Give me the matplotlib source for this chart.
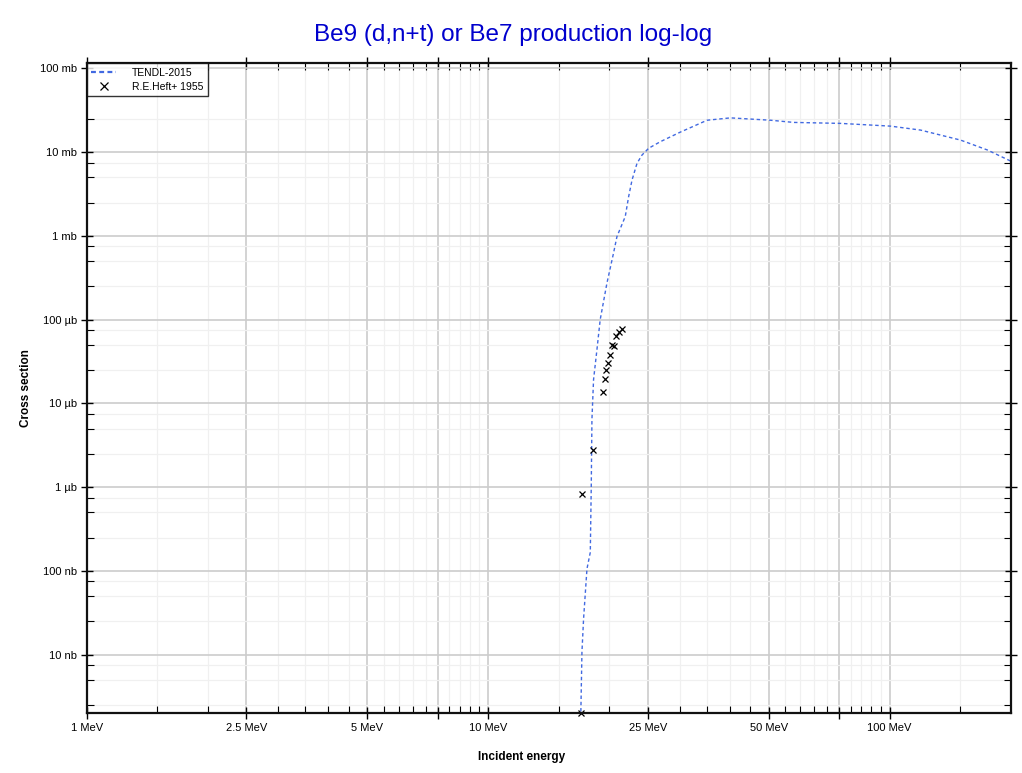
import numpy as np
import matplotlib.pyplot as plt
from matplotlib.ticker import FixedLocator, FuncFormatter, NullFormatter

plt.rcParams['font.family'] = ['Liberation Sans', 'DejaVu Sans']

# TENDL-2015 evaluation (MeV, barn)
tendl_e = [17.0, 17.02, 17.13, 17.29, 17.63, 17.97, 18.07, 18.14, 18.31, 18.67, 19.02,
           19.77, 20.53, 20.94, 21.96, 22.39, 22.83, 23.49, 24.17, 25.11, 26.85,
           30.11, 35.12, 40.14, 50.5, 57.7, 75.5, 100.6, 119.5, 150.3, 175.2, 200.3]
tendl_xs = [1e-10, 2.0e-9, 1.08e-8, 2.68e-8, 1.06e-7, 1.67e-7, 1.04e-6, 6.45e-6, 1.93e-5,
            4.40e-5, 1.0e-4, 2.73e-4, 6.22e-4, 9.82e-4, 1.70e-3, 2.94e-3, 4.64e-3,
            7.33e-3, 9.21e-3, 1.11e-2, 1.33e-2, 1.73e-2, 2.40e-2, 2.56e-2, 2.40e-2,
            2.26e-2, 2.20e-2, 2.04e-2, 1.83e-2, 1.39e-2, 1.06e-2, 7.81e-3]

# R.E.Heft+ 1955 measurements (MeV, barn)
heft_e = [17.0, 17.15, 18.27, 19.28, 19.5, 19.61, 19.89, 20.15, 20.35, 20.53, 20.85, 21.18, 21.55]
heft_xs = [2.0e-9, 8.3e-7, 2.76e-6, 1.38e-5, 1.97e-5, 2.49e-5, 3.05e-5, 3.80e-5,
           5.04e-5, 4.81e-5, 6.33e-5, 7.06e-5, 7.75e-5]

x_major = [1, 2.5, 5, 7.5, 10, 25, 50, 75, 100]
x_labels = ['1 MeV', '2.5 MeV', '5 MeV', '', '10 MeV', '25 MeV', '50 MeV', '', '100 MeV']
x_minor = [1.5, 2, 3, 3.5, 4, 4.5, 5.5, 6, 6.5, 7, 8, 8.5, 9, 9.5,
           15, 20, 30, 35, 40, 45, 55, 60, 65, 70, 80, 85, 90, 95, 150]
y_major = [1e-8, 1e-7, 1e-6, 1e-5, 1e-4, 1e-3, 1e-2, 1e-1]
y_minor = [2.5e-9, 5e-9, 7.5e-9] + [m * d for d in [1e-8, 1e-7, 1e-6, 1e-5, 1e-4, 1e-3]
                                    for m in (2.5, 5, 7.5)] + [2.5e-2]


def xs_label(v, pos):
    for unit, scale in (('b', 1), ('mb', 1e-3), ('µb', 1e-6), ('nb', 1e-9)):
        if v >= scale * 0.999:
            return '%g %s' % (round(v / scale, 6), unit)
    return ''


fig = plt.figure(figsize=(10.22, 7.73), dpi=100)
ax = fig.add_axes([0.0848, 0.0772, 0.9047, 0.8409])
ax.set_xscale('log')
ax.set_yscale('log')

ax.plot(tendl_e, tendl_xs, color='#4169e1', lw=1.0, ls=(0, (2.5, 2)), label='TENDL-2015')
ax.plot(heft_e, heft_xs, ls='none', marker='x', ms=4, mew=0.9, color='black',
        label='R.E.Heft+ 1955', clip_on=False)

ax.set_xlim(1, 201)
ax.set_ylim(2e-9, 0.1147)

ax.xaxis.set_major_locator(FixedLocator(x_major))
ax.xaxis.set_minor_locator(FixedLocator(x_minor))
ax.set_xticklabels(x_labels)
ax.xaxis.set_minor_formatter(NullFormatter())
ax.yaxis.set_major_locator(FixedLocator(y_major))
ax.yaxis.set_minor_locator(FixedLocator(y_minor))
ax.yaxis.set_major_formatter(FuncFormatter(xs_label))
ax.yaxis.set_minor_formatter(NullFormatter())

ax.grid(which='major', color='#cccccc', lw=1.2)
ax.grid(which='minor', color='#f0f0f0', lw=0.9)
ax.set_axisbelow(True)
ax.tick_params(which='major', direction='inout', length=8, width=1.0, labelsize=8,
               top=True, right=True, pad=3)
ax.tick_params(which='minor', direction='in', length=5, width=0.8, top=True, right=True)
for s in ax.spines.values():
    s.set_linewidth(1.6)
    s.set_color('#111111')

leg = ax.legend(loc='upper left', fontsize=7.5, frameon=True, fancybox=False,
                borderaxespad=0, handlelength=2.4, handletextpad=1.5, borderpad=0.45,
                labelspacing=0.35, markerscale=1.5)
leg.get_frame().set_edgecolor('black')
leg.get_frame().set_linewidth(1.0)
leg.get_lines()[0].set_linewidth(1.6)
leg.get_lines()[0].set_linestyle((0, (2.2, 1.5)))

fig.text(0.502, 0.955, 'Be9 (d,n+t) or Be7 production log-log', color='#0000cd',
         fontsize=17.5, ha='center', va='center')
fig.text(0.51, 0.021, 'Incident energy', fontsize=8.5, fontweight='bold',
         ha='center', va='center')
fig.text(0.025, 0.498, 'Cross section', fontsize=8.5, fontweight='bold',
         ha='center', va='center', rotation=90)

fig.savefig('out.png', dpi=100)
